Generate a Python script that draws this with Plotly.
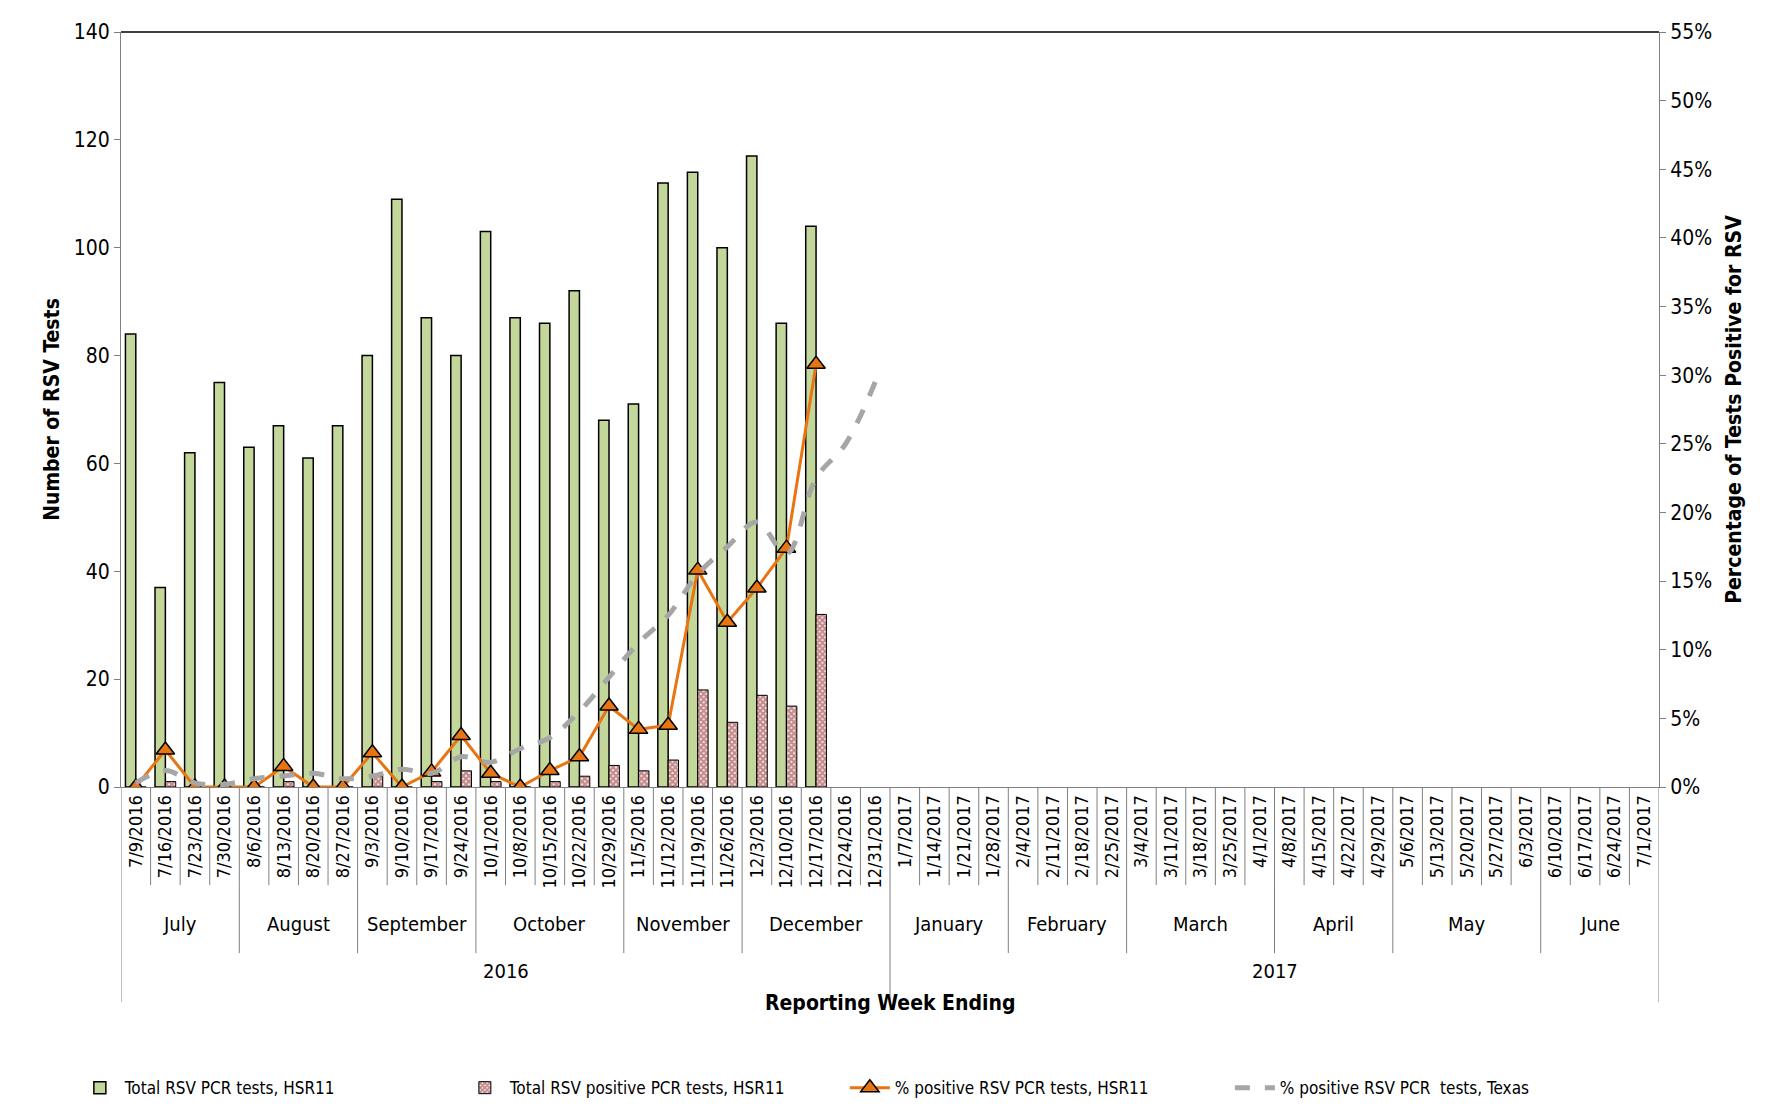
import plotly.graph_objects as go

weeks = ["7/9/2016", "7/16/2016", "7/23/2016", "7/30/2016", "8/6/2016", "8/13/2016", "8/20/2016", "8/27/2016",
         "9/3/2016", "9/10/2016", "9/17/2016", "9/24/2016", "10/1/2016", "10/8/2016", "10/15/2016", "10/22/2016",
         "10/29/2016", "11/5/2016", "11/12/2016", "11/19/2016", "11/26/2016", "12/3/2016", "12/10/2016",
         "12/17/2016", "12/24/2016", "12/31/2016", "1/7/2017", "1/14/2017", "1/21/2017", "1/28/2017",
         "2/4/2017", "2/11/2017", "2/18/2017", "2/25/2017", "3/4/2017", "3/11/2017", "3/18/2017", "3/25/2017",
         "4/1/2017", "4/8/2017", "4/15/2017", "4/22/2017", "4/29/2017", "5/6/2017", "5/13/2017", "5/20/2017",
         "5/27/2017", "6/3/2017", "6/10/2017", "6/17/2017", "6/24/2017", "7/1/2017"]
months = ["July", "August", "September", "October", "November", "December",
          "January", "February", "March", "April", "May", "June"]
month_weeks = [4, 4, 4, 5, 4, 5, 4, 4, 5, 4, 5, 4]
years = ["2016", "2017"]
year_weeks = [26, 26]

total_tests = [84, 37, 62, 75, 63, 67, 61, 67, 80, 109, 87, 80, 103, 87, 86, 92, 68, 71, 112, 114, 100, 117, 86, 104]
positive_tests = [0, 1, 0, 0, 0, 1, 0, 0, 2, 0, 1, 3, 1, 0, 1, 2, 4, 3, 5, 18, 12, 17, 15, 32]
pct_hsr11 = [0, 2.7, 0, 0, 0, 1.5, 0, 0, 2.5, 0, 1.1, 3.75, 1.0, 0, 1.2, 2.2, 5.9, 4.2, 4.5, 15.8, 12.0, 14.5,
             17.4, 30.8]
pct_texas = [0.3, 1.2, 0.3, 0.2, 0.6, 0.8, 1.0, 0.6, 0.8, 1.3, 1.0, 2.2, 1.8, 2.8, 3.6, 5.5, 8.0, 10.5, 12.5,
             15.5, 17.5, 19.3, 17.0, 22.5, 25.0, 29.5]

font = "DejaVu Sans Condensed"
xs = list(range(len(weeks)))

fig = go.Figure()
fig.add_trace(go.Bar(x=xs[:len(total_tests)], y=total_tests, name="Total RSV PCR tests, HSR11",
                     marker=dict(color="#c4d79b", line=dict(color="black", width=1.5))))
fig.add_trace(go.Bar(x=xs[:len(positive_tests)], y=positive_tests, name="Total RSV positive PCR tests, HSR11",
                     marker=dict(color="white", line=dict(color="black", width=1),
                                 pattern=dict(shape="x", fgcolor="#8b1a1a", bgcolor="white", size=4, solidity=0.8))))
fig.add_trace(go.Scatter(x=xs[:len(pct_hsr11)], y=[v / 100 for v in pct_hsr11], yaxis="y2",
                         name="% positive RSV PCR tests, HSR11", mode="lines+markers",
                         line=dict(color="#e87511", width=3),
                         marker=dict(symbol="triangle-up", size=16, color="#e87511",
                                     line=dict(color="black", width=1.5))))
fig.add_trace(go.Scatter(x=xs[:len(pct_texas)], y=[v / 100 for v in pct_texas], yaxis="y2",
                         name="% positive RSV PCR  tests, Texas", mode="lines", line_shape="spline",
                         line=dict(color="#a6a6a6", width=5, dash="dash")))

shapes = []
annotations = []
grey = "#808080"
for i in range(len(weeks) + 1):
    shapes.append(dict(type="line", xref="x", yref="paper", x0=i - 0.5, x1=i - 0.5, y0=0, y1=-0.13,
                       line=dict(color=grey, width=1)))
pos = 0
for m, n in zip(months, month_weeks):
    shapes.append(dict(type="line", xref="x", yref="paper", x0=pos - 0.5, x1=pos - 0.5, y0=-0.13, y1=-0.22,
                       line=dict(color=grey, width=1)))
    annotations.append(dict(x=pos + (n - 1) / 2, y=-0.2, xref="x", yref="paper", text=m, showarrow=False,
                            font=dict(size=20, family=font, color="black")))
    pos += n
pos = 0
for yr, n in zip(years, year_weeks):
    shapes.append(dict(type="line", xref="x", yref="paper", x0=pos - 0.5, x1=pos - 0.5, y0=-0.22, y1=-0.285,
                       line=dict(color=grey, width=1)))
    annotations.append(dict(x=pos + (n - 1) / 2, y=-0.262, xref="x", yref="paper", text=yr, showarrow=False,
                            font=dict(size=20, family=font, color="black")))
    pos += n
shapes.append(dict(type="line", xref="x", yref="paper", x0=pos - 0.5, x1=pos - 0.5, y0=-0.13, y1=-0.285,
                   line=dict(color=grey, width=1)))
shapes.append(dict(type="line", xref="paper", yref="paper", x0=0, x1=1, y0=1, y1=1,
                   line=dict(color="black", width=1.5)))
annotations.append(dict(x=0.5, y=-0.305, xref="paper", yref="paper", text="<b>Reporting Week Ending</b>",
                        showarrow=False, font=dict(size=21, family=font, color="black")))

fig.update_layout(
    width=1776, height=1110,
    margin=dict(l=113, r=125, t=22, b=300),
    plot_bgcolor="white", paper_bgcolor="white",
    font=dict(family=font, size=20, color="black"),
    barmode="group", bargap=0.3, bargroupgap=0,
    shapes=shapes, annotations=annotations,
    xaxis=dict(range=[-0.5, len(weeks) - 0.5], tickmode="array", tickvals=xs, ticktext=weeks,
               tickangle=-90, tickfont=dict(size=18), ticks="", showline=True, linecolor=grey,
               showgrid=False, zeroline=False),
    yaxis=dict(title=dict(text="<b>Number of RSV Tests</b>", font=dict(size=21), standoff=8), range=[0, 140],
               dtick=20, showgrid=False, showline=True, linecolor=grey, ticks="outside", ticklen=6,
               tickcolor=grey, tickfont=dict(size=21), zeroline=False),
    yaxis2=dict(title=dict(text="<b>Percentage of Tests Positive for RSV</b>", font=dict(size=21)),
                overlaying="y", side="right", range=[0, 0.55], dtick=0.05, tickformat=".0%",
                showgrid=False, showline=True, linecolor=grey, ticks="outside", ticklen=6, tickcolor=grey,
                tickfont=dict(size=21), zeroline=False),
    legend=dict(orientation="h", x=-0.03, y=-0.375, xanchor="left", yanchor="top", entrywidth=330,
                entrywidthmode="pixels", font=dict(size=17), itemwidth=40),
)
fig.write_html("out.html")
